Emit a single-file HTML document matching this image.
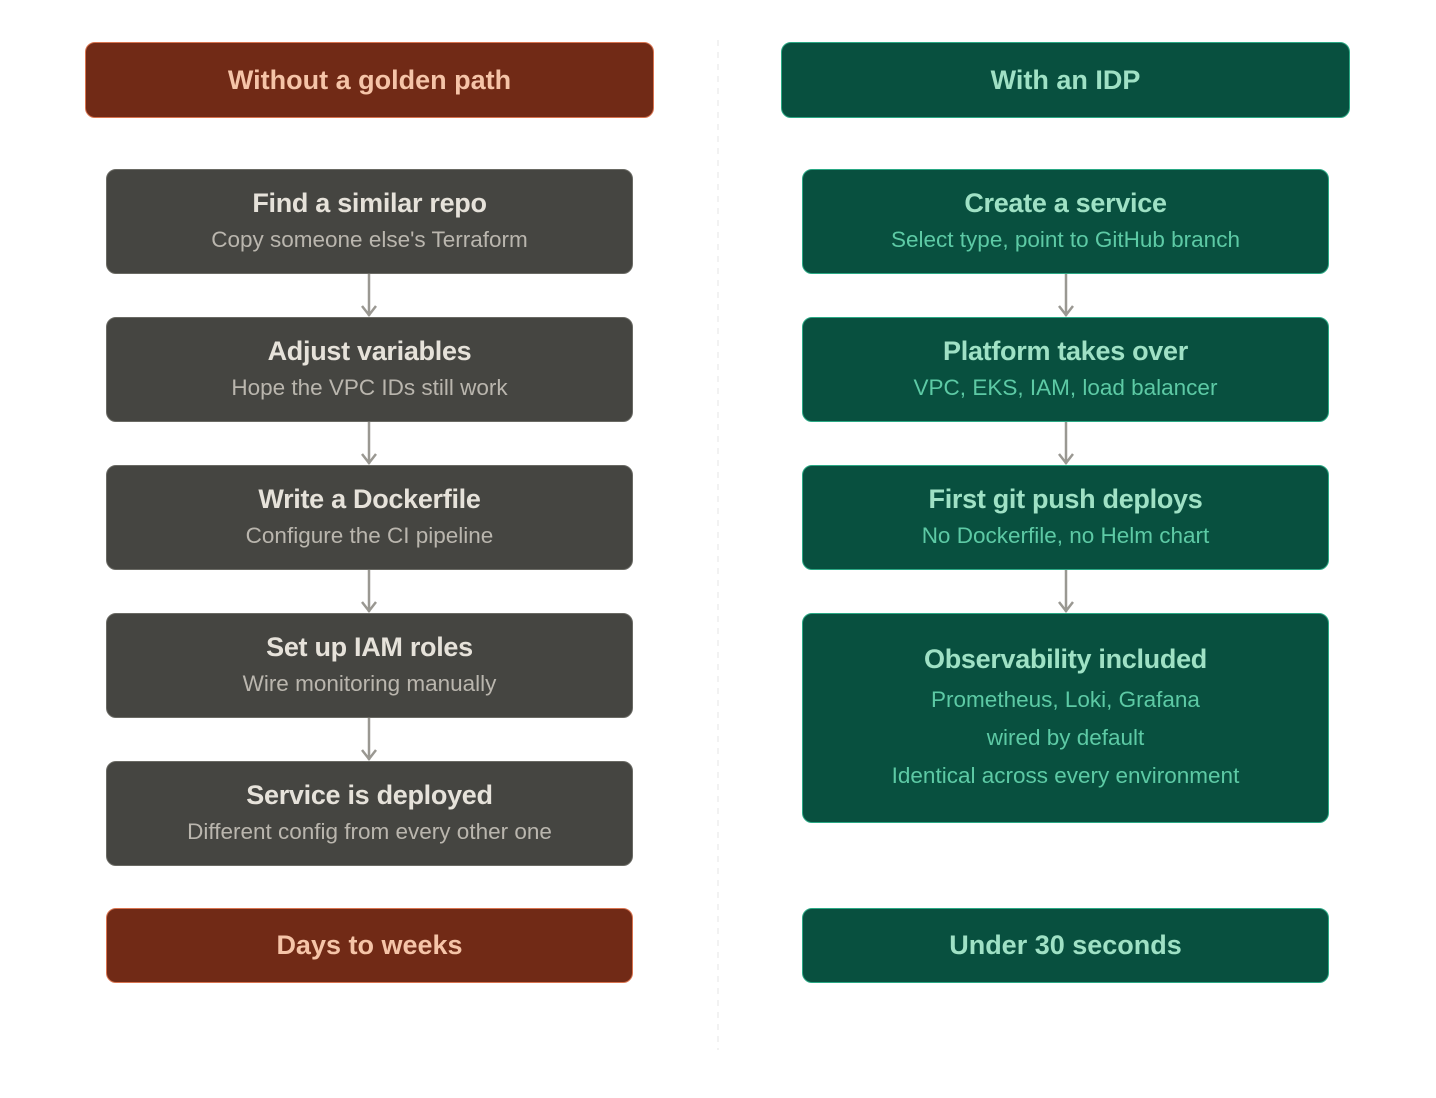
<!DOCTYPE html>
<html><head><meta charset="utf-8"><style>
body{margin:0;width:1436px;height:1098px;background:#fff;position:relative;font-family:"Liberation Sans",sans-serif;overflow:hidden}
.b{position:absolute;box-sizing:border-box;border-radius:10px;display:flex;flex-direction:column;justify-content:center;align-items:center;text-align:center}
.g{background:#454541;border:1.5px solid #6a6a64}
.g .t{color:#e6e2da}.g .s{color:#bab6ae}
.r{background:#712a16;border:1.5px solid #d8734f;color:#f5c4a8}
.e{background:#08503f;border:1.5px solid #2aa884}
.e .t{color:#9fe1c5}.e .s{color:#5dcaa5}
.t{font-size:27px;font-weight:bold;line-height:36px;letter-spacing:-0.3px}
.s{font-size:22.5px;line-height:38px}
.h{font-size:27px;font-weight:bold}
.e.h{color:#9fe1c5}
.L{left:106px;width:527px;height:105px}
.R{left:802px;width:527px;height:105px}
</style></head><body>
<svg width="1436" height="1098" style="position:absolute;left:0;top:0">
<line x1="718" y1="40" x2="718" y2="1050" stroke="#eeeeee" stroke-width="1.5" stroke-dasharray="6 6"/>
<g stroke="#9a9892" stroke-width="2.5" fill="none">
<path d="M369 274V316M362 306l7 9 7-9"/>
<path d="M369 422V464M362 454l7 9 7-9"/>
<path d="M369 570V612M362 602l7 9 7-9"/>
<path d="M369 718V760M362 750l7 9 7-9"/>
<path d="M1066 274V316M1059 306l7 9 7-9"/>
<path d="M1066 422V464M1059 454l7 9 7-9"/>
<path d="M1066 570V612M1059 602l7 9 7-9"/>
</g></svg>
<div class="b r h" style="left:85px;top:42px;width:569px;height:76px">Without a golden path</div>
<div class="b e h" style="left:781px;top:42px;width:569px;height:76px">With an IDP</div>
<div class="b g L" style="top:169px"><div class="t">Find a similar repo</div><div class="s">Copy someone else's Terraform</div></div>
<div class="b g L" style="top:317px"><div class="t">Adjust variables</div><div class="s">Hope the VPC IDs still work</div></div>
<div class="b g L" style="top:465px"><div class="t">Write a Dockerfile</div><div class="s">Configure the CI pipeline</div></div>
<div class="b g L" style="top:613px"><div class="t">Set up IAM roles</div><div class="s">Wire monitoring manually</div></div>
<div class="b g L" style="top:761px"><div class="t">Service is deployed</div><div class="s">Different config from every other one</div></div>
<div class="b r h L" style="top:908px;height:75px">Days to weeks</div>
<div class="b e R" style="top:169px"><div class="t">Create a service</div><div class="s">Select type, point to GitHub branch</div></div>
<div class="b e R" style="top:317px"><div class="t">Platform takes over</div><div class="s">VPC, EKS, IAM, load balancer</div></div>
<div class="b e R" style="top:465px"><div class="t">First git push deploys</div><div class="s">No Dockerfile, no Helm chart</div></div>
<div class="b e R" style="top:613px;height:210px"><div class="t" style="margin-bottom:4px">Observability included</div><div class="s">Prometheus, Loki, Grafana</div><div class="s">wired by default</div><div class="s">Identical across every environment</div></div>
<div class="b e h R" style="top:908px;height:75px">Under 30 seconds</div>
</body></html>
